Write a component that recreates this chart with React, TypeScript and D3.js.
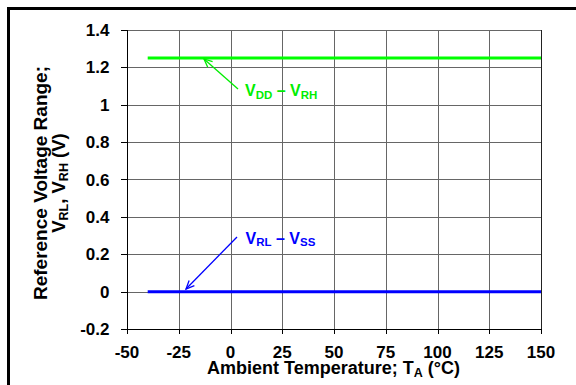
import React from "react";
import * as d3 from "d3";

const xTicks = [-50, -25, 0, 25, 50, 75, 100, 125, 150];
const yTicks = [-0.2, 0, 0.2, 0.4, 0.6, 0.8, 1, 1.2, 1.4];
const tempRange = [-40, 150];
const vddVrh = [1.25, 1.25];
const vrlVss = [0, 0];

const W = 576;
const H = 385;
const left = 127, right = 541, top = 30, bottom = 329;
const font = "Arial, 'Liberation Sans', sans-serif";

function Arrow({ x1, y1, x2, y2, color }: { x1: number; y1: number; x2: number; y2: number; color: string }) {
  const a = Math.atan2(y2 - y1, x2 - x1);
  const L = 9, s = 0.42;
  const p1 = [x2 - L * Math.cos(a - s), y2 - L * Math.sin(a - s)];
  const p2 = [x2 - L * Math.cos(a + s), y2 - L * Math.sin(a + s)];
  return (
    <g stroke={color} strokeWidth={1.3} fill="none">
      <line x1={x1} y1={y1} x2={x2} y2={y2} />
      <path d={`M${p1[0]},${p1[1]} L${x2},${y2} L${p2[0]},${p2[1]}`} />
    </g>
  );
}

export default function App() {
  const x = d3.scaleLinear().domain([-50, 150]).range([left, right]);
  const y = d3.scaleLinear().domain([-0.2, 1.4]).range([bottom, top]);
  const line = d3
    .line<[number, number]>()
    .x((d) => x(d[0]))
    .y((d) => y(d[1]));
  const green: [number, number][] = tempRange.map((t, i) => [t, vddVrh[i]]);
  const blue: [number, number][] = tempRange.map((t, i) => [t, vrlVss[i]]);
  const fmt = (v: number) => (Math.abs(v) < 1e-9 ? "0" : String(+v.toFixed(1)));
  const yc = 183;

  return (
    <svg
      width={W}
      height={H}
      style={{ position: "absolute", left: 0, top: 0, background: "#fff" }}
      fontFamily={font}
    >
      <rect x={8.5} y={8.5} width={700} height={500} fill="none" stroke="#000" strokeWidth={3} />
      {/* grid */}
      {xTicks.map((t) => (
        <line key={"gx" + t} x1={Math.round(x(t)) + 0.5} x2={Math.round(x(t)) + 0.5} y1={top} y2={bottom} stroke="#666" strokeWidth={1} />
      ))}
      {yTicks.map((t) => (
        <line key={"gy" + t} x1={left} x2={right} y1={Math.round(y(t)) + 0.5} y2={Math.round(y(t)) + 0.5} stroke="#666" strokeWidth={1} />
      ))}
      {/* axes */}
      <line x1={left + 0.5} x2={left + 0.5} y1={top} y2={bottom + 1} stroke="#000" />
      <line x1={left} x2={right + 1} y1={bottom + 0.5} y2={bottom + 0.5} stroke="#000" />
      <line x1={right + 0.5} x2={right + 0.5} y1={top} y2={bottom} stroke="#222" />
      {xTicks.map((t) => (
        <g key={"tx" + t}>
          <line x1={Math.round(x(t)) + 0.5} x2={Math.round(x(t)) + 0.5} y1={bottom} y2={bottom + 5} stroke="#000" />
          <text x={x(t)} y={357.5} textAnchor="middle" fontSize={17} fontWeight="bold" fill="#000">
            {fmt(t)}
          </text>
        </g>
      ))}
      {yTicks.map((t) => (
        <g key={"ty" + t}>
          <line x1={left - 6} x2={left} y1={Math.round(y(t)) + 0.5} y2={Math.round(y(t)) + 0.5} stroke="#000" />
          <text x={109.5} y={y(t) + 6} textAnchor="end" fontSize={17} fontWeight="bold" fill="#000">
            {fmt(t)}
          </text>
        </g>
      ))}
      {/* data */}
      <path d={line(green) || ""} fill="none" stroke="#00ff00" strokeWidth={3} />
      <path d={line(blue) || ""} fill="none" stroke="#0000ff" strokeWidth={3} />
      {/* annotations */}
      <Arrow x1={238} y1={89} x2={204} y2={59} color="#00ee00" />
      <text x={245} y={96} fontSize={16} fontWeight="bold" fill="#00ee00">
        V<tspan fontSize={11.5} dy={2.5}>DD</tspan>
        <tspan dy={-2.5}> – V</tspan>
        <tspan fontSize={11.5} dy={2.5}>RH</tspan>
      </text>
      <Arrow x1={237} y1={237} x2={186} y2={289} color="#0000ff" />
      <text x={245.5} y={243.5} fontSize={16} fontWeight="bold" fill="#0000ff">
        V<tspan fontSize={11.5} dy={2.5}>RL</tspan>
        <tspan dy={-2.5}> – V</tspan>
        <tspan fontSize={11.5} dy={2.5}>SS</tspan>
      </text>
      {/* axis titles */}
      <text x={333.5} y={374} textAnchor="middle" fontSize={18} fontWeight="bold" fill="#000">
        Ambient Temperature; T<tspan fontSize={12.5} dy={3}>A</tspan>
        <tspan dy={-3}> (°C)</tspan>
      </text>
      <g transform={`translate(47, ${yc}) rotate(-90)`}>
        <text x={0} y={0} textAnchor="middle" fontSize={19} fontWeight="bold" fill="#000">
          Reference Voltage Range;
        </text>
      </g>
      <g transform={`translate(65, ${yc}) rotate(-90)`}>
        <text x={0} y={0} textAnchor="middle" fontSize={18.5} fontWeight="bold" fill="#000">
          V<tspan fontSize={12.5} dy={3}>RL</tspan>
          <tspan dy={-3}>, V</tspan>
          <tspan fontSize={12.5} dy={3}>RH</tspan>
          <tspan dy={-3}> (V)</tspan>
        </text>
      </g>
    </svg>
  );
}
